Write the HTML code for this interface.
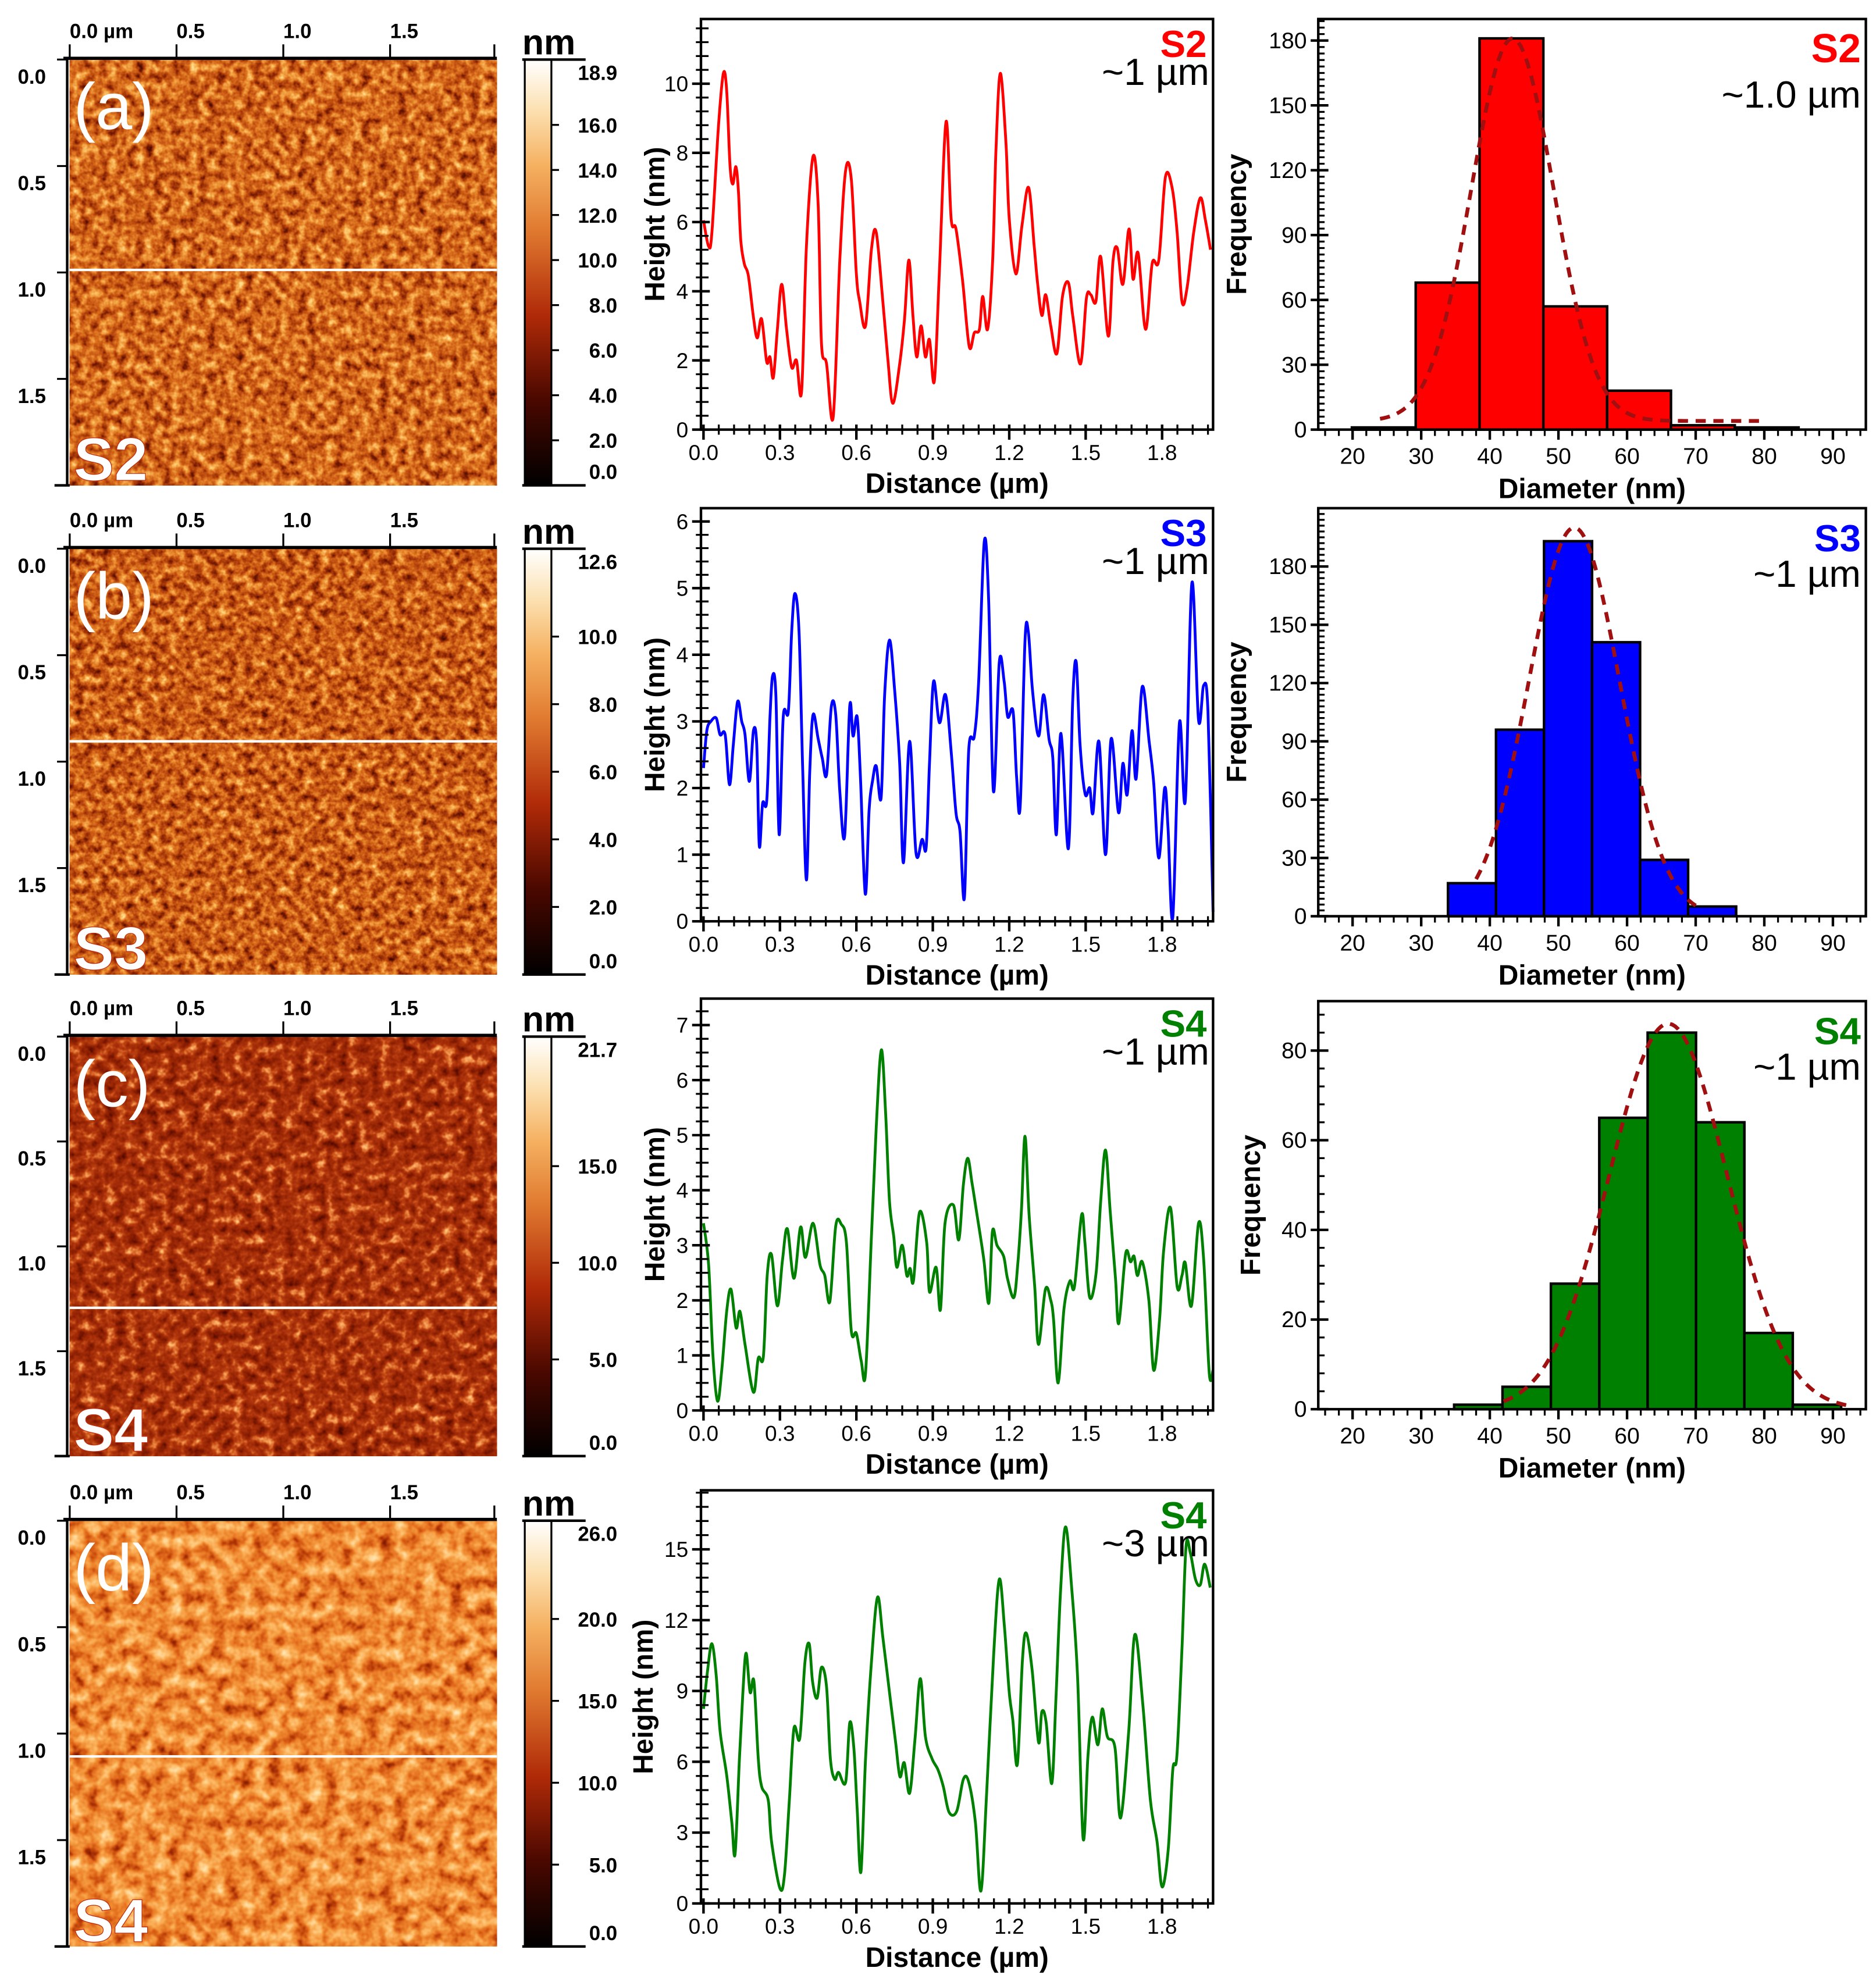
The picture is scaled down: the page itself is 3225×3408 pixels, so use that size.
<!DOCTYPE html>
<html><head><meta charset="utf-8">
<style>
html,body{margin:0;padding:0;background:#fff;}
svg{display:block;font-family:"Liberation Sans",Arial,sans-serif;}
</style></head>
<body>
<svg id="fig" xmlns="http://www.w3.org/2000/svg" width="3225" height="3408" viewBox="0 0 1480 1564" preserveAspectRatio="none">
<defs>
<filter id="fa" x="0" y="0" width="1" height="1" color-interpolation-filters="sRGB"><feTurbulence type="fractalNoise" baseFrequency="0.14" numOctaves="3" seed="3"/><feColorMatrix type="matrix" values="1 0 0 0 0 1 0 0 0 0 1 0 0 0 0 0 0 0 0 1"/><feComponentTransfer><feFuncR type="table" tableValues="0.2 0.3 0.45 0.62 0.74 0.83 0.9 0.95 0.99 1 1"/><feFuncG type="table" tableValues="0.02 0.05 0.1 0.2 0.3 0.4 0.52 0.64 0.76 0.88 0.95"/><feFuncB type="table" tableValues="0 0 0.01 0.03 0.06 0.1 0.17 0.27 0.4 0.58 0.75"/></feComponentTransfer></filter>
<filter id="fb" x="0" y="0" width="1" height="1" color-interpolation-filters="sRGB"><feTurbulence type="fractalNoise" baseFrequency="0.15" numOctaves="3" seed="7"/><feColorMatrix type="matrix" values="1 0 0 0 0 1 0 0 0 0 1 0 0 0 0 0 0 0 0 1"/><feComponentTransfer><feFuncR type="table" tableValues="0.18 0.28 0.42 0.58 0.7 0.8 0.88 0.94 0.99 1 1"/><feFuncG type="table" tableValues="0.02 0.04 0.09 0.17 0.26 0.36 0.48 0.6 0.74 0.88 0.95"/><feFuncB type="table" tableValues="0 0 0.01 0.02 0.05 0.08 0.14 0.24 0.38 0.58 0.75"/></feComponentTransfer></filter>
<filter id="fc" x="0" y="0" width="1" height="1" color-interpolation-filters="sRGB"><feTurbulence type="fractalNoise" baseFrequency="0.12" numOctaves="3" seed="11"/><feColorMatrix type="matrix" values="1 0 0 0 0 1 0 0 0 0 1 0 0 0 0 0 0 0 0 1"/><feComponentTransfer><feFuncR type="table" tableValues="0.2 0.3 0.42 0.52 0.6 0.66 0.74 0.86 0.95 1 1"/><feFuncG type="table" tableValues="0.01 0.03 0.07 0.11 0.15 0.19 0.26 0.42 0.6 0.78 0.9"/><feFuncB type="table" tableValues="0 0 0 0.01 0.02 0.04 0.07 0.17 0.32 0.5 0.6"/></feComponentTransfer></filter>
<filter id="fd" x="0" y="0" width="1" height="1" color-interpolation-filters="sRGB"><feTurbulence type="fractalNoise" baseFrequency="0.09" numOctaves="3" seed="5"/><feColorMatrix type="matrix" values="1 0 0 0 0 1 0 0 0 0 1 0 0 0 0 0 0 0 0 1"/><feComponentTransfer><feFuncR type="table" tableValues="0.4 0.55 0.7 0.82 0.9 0.94 0.97 0.99 1 1 1"/><feFuncG type="table" tableValues="0.06 0.13 0.22 0.34 0.45 0.55 0.64 0.73 0.82 0.9 0.95"/><feFuncB type="table" tableValues="0 0.01 0.03 0.07 0.13 0.2 0.29 0.4 0.55 0.7 0.8"/></feComponentTransfer></filter>
<linearGradient id="cbar" x1="0" y1="1" x2="0" y2="0">
<stop offset="0" stop-color="#000"/><stop offset="0.2" stop-color="#4a0800"/><stop offset="0.4" stop-color="#b02a08"/><stop offset="0.6" stop-color="#e07a30"/><stop offset="0.75" stop-color="#f5b060"/><stop offset="0.88" stop-color="#fce0b0"/><stop offset="1" stop-color="#fff"/>
</linearGradient>
</defs>
</svg>
<script>
// ---------- data ----------
const distS2 = [0,0.02,0.033,0.059,0.078,0.091,0.104,0.115,0.127,0.137,0.146,0.16,0.176,0.196,0.211,0.228,0.248,0.261,0.274,0.29,0.307,0.326,0.346,0.365,0.385,0.404,0.43,0.45,0.463,0.483,0.509,0.535,0.558,0.58,0.6,0.613,0.636,0.659,0.678,0.704,0.724,0.743,0.77,0.789,0.806,0.822,0.837,0.854,0.871,0.887,0.906,0.926,0.952,0.972,0.991,1.017,1.043,1.063,1.083,1.096,1.115,1.135,1.148,1.165,1.187,1.2,1.226,1.25,1.276,1.298,1.311,1.328,1.343,1.363,1.387,1.409,1.432,1.45,1.48,1.503,1.52,1.54,1.559,1.589,1.607,1.624,1.646,1.67,1.686,1.706,1.735,1.761,1.787,1.813,1.839,1.859,1.878,1.898,1.924,1.95,1.97,1.99];
const heightS2 = [6.05,5.3,5.7,8.8,10.3,9.8,7.65,7.1,7.6,6.9,5.5,4.8,4.45,3.25,2.65,3.2,1.96,2.1,1.5,2.9,4.2,2.9,1.8,2.0,1.1,5.3,7.9,6.5,2.5,1.9,0.36,4.9,7.5,7.25,4.5,3.7,3.0,5.2,5.7,3.7,2.0,0.76,1.9,3.2,4.9,3.3,2.1,3.0,2.1,2.6,1.4,4.6,8.9,6.1,5.8,4.3,2.4,2.8,2.9,3.85,2.9,4.9,8.1,10.3,8.3,6.1,4.5,5.9,7.0,5.3,4.25,3.3,3.9,3.0,2.2,3.85,4.25,3.25,1.9,3.8,3.9,3.7,5.0,2.7,4.85,5.25,4.2,5.8,4.35,5.1,2.9,4.8,4.9,7.3,7.0,5.7,3.7,4.1,5.7,6.7,6.05,5.2];
const distS3 = [0,0.013,0.029,0.05,0.065,0.085,0.102,0.117,0.134,0.15,0.163,0.18,0.196,0.209,0.219,0.232,0.248,0.261,0.271,0.284,0.297,0.313,0.333,0.346,0.359,0.375,0.389,0.404,0.417,0.43,0.45,0.466,0.483,0.502,0.519,0.535,0.554,0.574,0.587,0.603,0.616,0.635,0.65,0.664,0.678,0.697,0.711,0.73,0.75,0.77,0.785,0.809,0.834,0.858,0.874,0.887,0.903,0.926,0.95,0.972,0.991,1.007,1.024,1.041,1.063,1.08,1.102,1.119,1.138,1.161,1.18,1.194,1.215,1.229,1.243,1.262,1.275,1.291,1.315,1.335,1.356,1.371,1.385,1.403,1.432,1.449,1.463,1.478,1.498,1.516,1.529,1.552,1.578,1.6,1.629,1.646,1.663,1.682,1.698,1.722,1.749,1.767,1.787,1.81,1.823,1.842,1.868,1.891,1.917,1.943,1.963,1.98,2.0];
const heightS3 = [2.3,2.86,3.0,3.05,2.8,2.8,2.05,2.65,3.3,3.0,2.8,2.1,2.86,2.65,1.13,1.77,1.8,3.07,3.68,3.4,1.3,3.07,3.15,4.34,4.92,4.34,2.33,0.62,2.24,3.1,2.74,2.45,2.2,3.23,3.1,1.95,1.28,3.23,2.78,3.07,2.16,0.41,1.67,2.12,2.33,1.85,3.4,4.22,3.48,2.37,0.88,2.7,1.03,1.23,1.11,2.37,3.6,2.98,3.4,2.55,1.63,1.34,0.35,2.57,2.78,3.6,5.7,4.84,1.95,3.89,3.6,3.07,3.15,2.16,1.73,4.22,4.34,3.48,2.78,3.4,2.74,2.45,1.3,2.82,1.09,3.3,3.89,2.65,1.91,2.0,1.63,2.7,1.0,2.74,1.63,2.37,1.9,2.86,2.14,3.52,2.7,2.08,0.95,2.0,1.42,0.06,2.98,1.81,5.08,3.02,3.54,3.15,0.14];
const distS4a = [0,0.02,0.037,0.055,0.072,0.091,0.108,0.128,0.143,0.163,0.196,0.215,0.235,0.25,0.267,0.29,0.31,0.329,0.355,0.381,0.4,0.43,0.457,0.476,0.496,0.519,0.541,0.561,0.58,0.6,0.619,0.636,0.659,0.678,0.698,0.715,0.73,0.747,0.759,0.78,0.798,0.811,0.824,0.848,0.876,0.887,0.913,0.93,0.948,0.981,1.002,1.02,1.037,1.054,1.072,1.1,1.12,1.134,1.152,1.178,1.193,1.218,1.233,1.248,1.262,1.278,1.3,1.315,1.342,1.363,1.374,1.392,1.415,1.438,1.456,1.484,1.497,1.516,1.541,1.559,1.578,1.596,1.617,1.63,1.657,1.676,1.69,1.703,1.722,1.748,1.767,1.79,1.806,1.833,1.859,1.878,1.891,1.915,1.943,1.963,1.985,2.0];
const heightS4a = [3.4,2.65,1.0,0.17,0.75,1.8,2.2,1.5,1.8,1.2,0.33,0.95,0.98,2.45,2.83,1.9,2.73,3.3,2.4,3.33,2.78,3.4,2.65,2.45,1.98,3.35,3.38,3.05,1.45,1.4,0.9,0.68,3.15,5.15,6.55,5.38,3.8,3.15,2.6,3.0,2.45,2.58,2.35,3.6,3.05,2.15,2.6,1.83,3.4,3.73,3.1,4.1,4.58,4.13,3.6,2.75,1.95,3.25,3.0,2.8,2.4,2.05,2.63,3.65,4.98,3.55,2.25,1.2,2.2,2.0,1.65,0.5,1.85,2.35,2.25,3.55,3.05,2.05,2.5,3.8,4.73,3.63,2.4,1.58,2.85,2.7,2.8,2.45,2.7,2.0,0.73,1.65,2.9,3.68,2.25,2.45,2.68,1.9,3.4,2.75,0.68,0.73];
const distS4b = [0,0.016,0.033,0.05,0.065,0.091,0.111,0.124,0.141,0.154,0.167,0.183,0.198,0.215,0.228,0.254,0.267,0.3,0.318,0.337,0.355,0.378,0.398,0.415,0.428,0.446,0.463,0.483,0.498,0.515,0.53,0.558,0.574,0.59,0.603,0.618,0.636,0.659,0.683,0.704,0.73,0.754,0.771,0.788,0.809,0.83,0.851,0.871,0.897,0.92,0.941,0.964,0.994,1.02,1.041,1.067,1.089,1.111,1.139,1.161,1.181,1.2,1.214,1.232,1.252,1.267,1.29,1.315,1.328,1.345,1.367,1.383,1.401,1.421,1.445,1.468,1.49,1.509,1.526,1.548,1.565,1.585,1.615,1.637,1.669,1.693,1.724,1.754,1.78,1.8,1.824,1.842,1.858,1.878,1.894,1.911,1.931,1.95,1.967,1.989];
const heightS4b = [8.24,9.87,11.0,9.64,7.3,5.43,3.45,2.1,6.13,8.82,10.6,8.94,9.4,6.13,4.96,4.38,2.63,0.64,1.23,4.38,7.42,7.0,10.2,11.0,9.4,8.7,10.0,9.17,6.13,5.26,5.55,5.14,7.65,6.6,4.03,1.34,6.13,10.2,12.97,11.27,8.94,6.83,5.37,5.96,4.67,6.95,9.52,7.07,6.13,5.67,4.96,3.86,3.91,5.26,5.14,3.45,0.53,4.61,10.57,13.73,11.74,8.94,7.77,5.9,10.34,11.45,9.87,6.83,8.12,7.65,5.08,8.59,13.14,15.95,13.38,9.64,2.75,6.25,7.89,6.72,8.24,7.07,6.6,3.62,7.3,11.39,8.47,4.38,2.63,0.7,2.28,5.67,6.25,10.8,15.13,14.84,13.73,13.5,14.37,13.38,11.86];

const histS2Start = 19.9, histS2Width = 9.3;
const histS2Counts = [1,68,181,57,18,2,1];
const fitS2 = {mu:43.3, sigma:6.0, amp:177, base:4, from:24, to:80};
const histS3Start = 33.9, histS3Width = 7.0;
const histS3Counts = [17,96,193,141,29,5];
const fitS3 = {mu:52.3, sigma:6.6, amp:200, base:0, from:38, to:70};
const histS4Start = 34.8, histS4Width = 7.05;
const histS4Counts = [1,5,28,65,84,64,17,1];
const fitS4 = {mu:66, sigma:8.6, amp:86, base:0, from:42, to:92};

const afmXTicks = ["0.0 µm","0.5","1.0","1.5"];
const afmYTicks = ["0.0","0.5","1.0","1.5"];
const cbarA = [18.9,16,14,12,10,8,6,4,2,0];
const cbarB = [12.6,10,8,6,4,2,0];
const cbarC = [21.7,15,10,5,0];
const cbarD = [26,20,15,10,5,0];
const profXTicks = [0,0.3,0.6,0.9,1.2,1.5,1.8];
const histXTicks = [20,30,40,50,60,70,80,90];

// ---------- helpers ----------
const NS = "http://www.w3.org/2000/svg";
const svg = document.getElementById("fig");
function mk(tag, attrs, parent){
  const e = document.createElementNS(NS, tag);
  for (const k in attrs) e.setAttribute(k, attrs[k]);
  (parent || svg).appendChild(e);
  return e;
}
function txt(s, attrs, parent){
  const e = mk("text", attrs, parent);
  e.textContent = s;
  return e;
}
function smoothPath(pts){
  let d = "M" + pts[0][0].toFixed(2) + "," + pts[0][1].toFixed(2);
  for (let i = 0; i < pts.length-1; i++) {
    const p0 = pts[Math.max(0,i-1)], p1 = pts[i], p2 = pts[i+1], p3 = pts[Math.min(pts.length-1,i+2)];
    const c1x = p1[0] + (p2[0]-p0[0])/6, c1y = p1[1] + (p2[1]-p0[1])/6;
    const c2x = p2[0] - (p3[0]-p1[0])/6, c2y = p2[1] - (p3[1]-p1[1])/6;
    d += "C" + c1x.toFixed(2) + "," + c1y.toFixed(2) + " " + c2x.toFixed(2) + "," + c2y.toFixed(2) + " " + p2[0].toFixed(2) + "," + p2[1].toFixed(2);
  }
  return d;
}

// ---------- AFM images ----------
const afmRows = [
  {top:47, bot:383, filt:"fa", lab:"(a)", s:"S2", cb:cbarA, line:213},
  {top:433, bot:769, filt:"fb", lab:"(b)", s:"S3", cb:cbarB, line:585},
  {top:818, bot:1149, filt:"fc", lab:"(c)", s:"S4", cb:cbarC, line:1032},
  {top:1200, bot:1536, filt:"fd", lab:"(d)", s:"S4", cb:cbarD, line:1386}
];
afmRows.forEach((r, i) => {
  const g = mk("g", {});
  
  
  const h = r.bot - r.top;
  const img = mk("rect", {x:55, y:r.top, width:337, height:h, filter:"url(#"+r.filt+")"}, g);
  
  
  const ln = mk("line", {x1:55, x2:392, y1:r.line, y2:r.line, stroke:"#fff", "stroke-width":2}, g);
  
  
  mk("line", {x1:50, x2:392, y1:r.top-1, y2:r.top-1, stroke:"#000", "stroke-width":2.5}, g);
  const step = 337/2.0*0.5;
  afmXTicks.forEach((t, k) => {
    const x = 55 + k*step;
    mk("line", {x1:x, x2:x, y1:r.top-1, y2:r.top-12, stroke:"#000", "stroke-width":1.5}, g);
    const tl = txt(t, {x:x, y:r.top-17, "font-size":16, "font-weight":"bold"}, g);
    
    
  });
  mk("line", {x1:390, x2:390, y1:r.top-1, y2:r.top-12, stroke:"#000", "stroke-width":1.5}, g);
  mk("line", {x1:53, x2:53, y1:r.top-1, y2:r.bot, stroke:"#000", "stroke-width":2}, g);
  mk("line", {x1:43, x2:55, y1:r.bot, y2:r.bot, stroke:"#000", "stroke-width":2}, g);
  afmYTicks.forEach((t, k) => {
    const y = r.top + k*h/4;
    mk("line", {x1:45, x2:53, y1:y, y2:y, stroke:"#000", "stroke-width":1.5}, g);
    const tl = txt(t, {x:14, y:y+19, "font-size":16, "font-weight":"bold"}, g);
    
    
  });
  const pl = txt(r.lab, {x:58, y:r.top+55, "font-size":52, fill:"#fff"}, g);
  
  
  const sl = txt(r.s, {x:58, y:r.bot-4, "font-size":48, "font-weight":"bold", fill:"#fff", stroke:"#c03010", "stroke-width":0.6}, g);
  
  
  const cb = mk("rect", {x:414, y:r.top, width:21, height:h, fill:"url(#cbar)", stroke:"#000", "stroke-width":1.5}, g);
  
  
  mk("line", {x1:412, x2:462, y1:r.top, y2:r.top, stroke:"#000", "stroke-width":2}, g);
  mk("line", {x1:412, x2:462, y1:r.bot, y2:r.bot, stroke:"#000", "stroke-width":2}, g);
  const u = txt("nm", {x:412, y:r.top-4, "font-size":28, "font-weight":"bold"}, g);
  
  
  const maxv = r.cb[0];
  r.cb.forEach((v) => {
    const y = r.bot - v/maxv*h;
    if (v !== 0 && v !== maxv) mk("line", {x1:435, x2:441, y1:y, y2:y, stroke:"#000", "stroke-width":1.5}, g);
    let ly = y + 6;
    if (v === maxv) ly = r.top + 16;
    if (v === 0) ly = r.bot - 5;
    const tl = txt(v.toFixed(1), {x:487, y:ly, "font-size":16, "font-weight":"bold", "text-anchor":"end"}, g);
    
    
  });
});

// ---------- height profiles ----------
const profiles = [
  {top:15, bot:339, ymax:11.87, minor:0.4, xs:distS2, ys:heightS2, color:"#ff0000", s:"S2", scan:"~1 µm", ticks:[0,2,4,6,8,10]},
  {top:401, bot:727, ymax:6.2, minor:0.2, xs:distS3, ys:heightS3, color:"#0000ff", s:"S3", scan:"~1 µm", ticks:[0,1,2,3,4,5,6]},
  {top:788, bot:1113, ymax:7.48, minor:0.25, xs:distS4a, ys:heightS4a, color:"#008000", s:"S4", scan:"~1 µm", ticks:[0,1,2,3,4,5,6,7]},
  {top:1176, bot:1502, ymax:17.5, minor:0.6, xs:distS4b, ys:heightS4b, color:"#008000", s:"S4", scan:"~3 µm", ticks:[0,3,6,9,12,15]}
];
const PX0 = 555, PX1 = 957, PXMAX = 2.0;
function px(v){ return PX0 + v/PXMAX*(PX1-PX0); }
profiles.forEach((p, i) => {
  const g = mk("g", {});
  
  
  const py = v => p.bot - v/p.ymax*(p.bot-p.top);
  const pts = p.xs.map((x, k) => [px(x), py(p.ys[k])]);
  const path = mk("path", {d:smoothPath(pts), fill:"none", stroke:p.color, "stroke-width":2.2, "stroke-linejoin":"round"}, g);
  
  
  const fr = mk("rect", {x:553, y:p.top, width:PX1-553, height:p.bot-p.top, fill:"none", stroke:"#000", "stroke-width":2}, g);
  
  
  for (let v = 0; v <= PXMAX + 1e-6; v += 0.06) {
    const x = px(v);
    const isMaj = Math.abs(v/0.3 - Math.round(v/0.3)) < 1e-6;
    mk("line", {x1:x, x2:x, y1:p.bot-4, y2:p.bot+(isMaj?8:4), stroke:"#000", "stroke-width":isMaj?2:1.5}, g);
  }
  profXTicks.forEach(v => {
    const tl = txt(v.toFixed(1), {x:px(v), y:p.bot+24, "font-size":17, "text-anchor":"middle"}, g);
    
    
  });
  for (let v = 0; v <= p.ymax; v += p.minor) {
    const y = py(v);
    mk("line", {x1:549, x2:559, y1:y, y2:y, stroke:"#000", "stroke-width":1.5}, g);
  }
  p.ticks.forEach(v => {
    const y = py(v);
    mk("line", {x1:546, x2:560, y1:y, y2:y, stroke:"#000", "stroke-width":2}, g);
    const tl = txt(String(v), {x:543, y:y+6, "font-size":17, "text-anchor":"end"}, g);
    
    
  });
  const xt = txt("Distance (µm)", {x:755, y:p.bot+50, "font-size":22, "font-weight":"bold", "text-anchor":"middle"}, g);
  
  
  const cy = (p.top+p.bot)/2;
  const yt = txt("Height (nm)", {x:0, y:0, "font-size":22, "font-weight":"bold", "text-anchor":"middle", transform:"translate(" + (i===3?515:524) + "," + cy + ") rotate(-90)"}, g);
  
  
  const sl = txt(p.s, {x:952, y:p.top+30, "font-size":30, "font-weight":"bold", fill:p.color, "text-anchor":"end"}, g);
  
  
  const sc = txt(p.scan, {x:954, y:p.top+52, "font-size":30, "text-anchor":"end"}, g);
  
  
});

// ---------- histograms ----------
const hists = [
  {top:15, bot:339, ymax:180/(339-32)*(339-15), start:histS2Start, w:histS2Width, counts:histS2Counts, fit:fitS2, color:"#ff0000", s:"S2", scan:"~1.0 µm", ticks:[0,30,60,90,120,150,180], minor:3, sfont:32},
  {top:401, bot:723, ymax:180/(723-447)*(723-401), start:histS3Start, w:histS3Width, counts:histS3Counts, fit:fitS3, color:"#0000ff", s:"S3", scan:"~1 µm", ticks:[0,30,60,90,120,150,180], minor:3, sfont:30},
  {top:790, bot:1112, ymax:80/(1112-829)*(1112-790), start:histS4Start, w:histS4Width, counts:histS4Counts, fit:fitS4, color:"#008000", s:"S4", scan:"~1 µm", ticks:[0,20,40,60,80], minor:4, sfont:30}
];
const HX0 = 1040, HX1 = 1472, HXMIN = 15, HXMAX = 94.8;
function hx(v){ return HX0 + (v-HXMIN)/(HXMAX-HXMIN)*(HX1-HX0); }
hists.forEach((hh, i) => {
  const g = mk("g", {});
  
  
  const hy = v => hh.bot - v/hh.ymax*(hh.bot-hh.top);
  hh.counts.forEach((c, k) => {
    const x0 = hx(hh.start + k*hh.w), x1 = hx(hh.start + (k+1)*hh.w);
    const b = mk("rect", {x:x0, y:hy(c), width:x1-x0, height:hh.bot-hy(c), fill:hh.color, stroke:"#000", "stroke-width":2}, g);
    
    
  });
  let d = "";
  const f = hh.fit;
  for (let k = 0; k <= 120; k++) {
    const v = f.from + (f.to-f.from)*k/120;
    const y = f.base + f.amp*Math.exp(-0.5*Math.pow((v-f.mu)/f.sigma, 2));
    d += (k ? "L" : "M") + hx(v).toFixed(2) + "," + hy(y).toFixed(2);
  }
  const fc = mk("path", {d:d, fill:"none", stroke:"#a01010", "stroke-width":3, "stroke-dasharray":"8,6"}, g);
  
  
  const fr = mk("rect", {x:HX0, y:hh.top, width:HX1-HX0, height:hh.bot-hh.top, fill:"none", stroke:"#000", "stroke-width":2}, g);
  
  
  for (let v = 16; v <= 94; v += 2) {
    const x = hx(v);
    const isMaj = v % 10 === 0;
    mk("line", {x1:x, x2:x, y1:hh.bot, y2:hh.bot+(isMaj?8:5), stroke:"#000", "stroke-width":isMaj?2:1.5}, g);
  }
  histXTicks.forEach(v => {
    const tl = txt(String(v), {x:hx(v), y:hh.bot+27, "font-size":18, "text-anchor":"middle"}, g);
    
    
  });
  for (let v = 0; v <= hh.ymax; v += hh.minor) {
    const y = hy(v);
    mk("line", {x1:HX0, x2:HX0+5, y1:y, y2:y, stroke:"#000", "stroke-width":1.5}, g);
  }
  hh.ticks.forEach(v => {
    const y = hy(v);
    mk("line", {x1:HX0-6, x2:HX0+8, y1:y, y2:y, stroke:"#000", "stroke-width":2}, g);
    const tl = txt(String(v), {x:1031, y:y+6, "font-size":18, "text-anchor":"end"}, g);
    
    
  });
  const xt = txt("Diameter (nm)", {x:1256, y:hh.bot+54, "font-size":22, "font-weight":"bold", "text-anchor":"middle"}, g);
  
  
  const cy = (hh.top+hh.bot)/2;
  const yt = txt("Frequency", {x:0, y:0, "font-size":22, "font-weight":"bold", "text-anchor":"middle", transform:"translate(" + (i===2?994:983) + "," + cy + ") rotate(-90)"}, g);
  
  
  const sl = txt(hh.s, {x:1468, y:hh.top+34, "font-size":hh.sfont, "font-weight":"bold", fill:hh.color, "text-anchor":"end"}, g);
  
  
  const sc = txt(hh.scan, {x:1468, y:hh.top+(i===0?70:62), "font-size":30, "text-anchor":"end"}, g);
  
  
});
</script>
</body></html>
